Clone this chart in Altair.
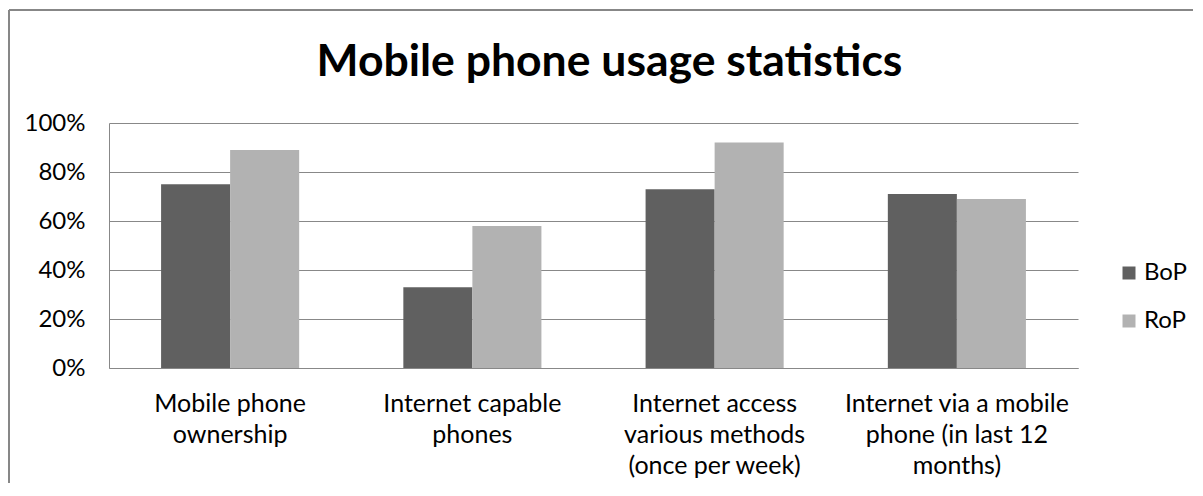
import altair as alt
import pandas as pd

categories = [
    "Mobile phone\nownership",
    "Internet capable\nphones",
    "Internet access\nvarious methods\n(once per week)",
    "Internet via a mobile\nphone (in last 12\nmonths)",
]
series = ["BoP", "RoP"]
bop_values = [0.75, 0.33, 0.73, 0.71]
rop_values = [0.89, 0.58, 0.92, 0.69]
y_ticks = [0, 0.2, 0.4, 0.6, 0.8, 1.0]
colors = ["#606060", "#b2b2b2"]
title_text = "Mobile phone usage statistics"

rows = []
for c, b, r in zip(categories, bop_values, rop_values):
    rows.append({"category": c, "series": "BoP", "value": b})
    rows.append({"category": c, "series": "RoP", "value": r})
df = pd.DataFrame(rows)

FONT = "Lato"
GRID = "#888888"

bars = alt.Chart(df).mark_bar().encode(
    x=alt.X(
        "category:N",
        sort=categories,
        title=None,
        scale=alt.Scale(paddingInner=0.43, paddingOuter=0.215),
        axis=alt.Axis(
            labelExpr="split(datum.label, '\\n')",
            labelAngle=0,
            labelFont=FONT,
            labelFontSize=25,
            labelColor="#000000",
            labelLineHeight=31,
            labelBaseline="top",
            labelPadding=23,
            labelLimit=0,
            ticks=False,
            domain=True,
            domainColor=GRID,
            domainWidth=1,
            grid=False,
        ),
    ),
    xOffset=alt.XOffset("series:N", sort=series,
                        scale=alt.Scale(paddingInner=0, paddingOuter=0)),
    y=alt.Y(
        "value:Q",
        title=None,
        scale=alt.Scale(domain=[0, 1]),
        axis=alt.Axis(
            format=".0%",
            values=y_ticks,
            labelFont=FONT,
            labelFontSize=24,
            labelColor="#000000",
            labelPadding=24,
            ticks=False,
            domain=True,
            domainColor=GRID,
            grid=True,
            gridColor=GRID,
            gridWidth=1,
        ),
    ),
    color=alt.Color(
        "series:N",
        scale=alt.Scale(domain=series, range=colors),
        legend=alt.Legend(
            title=None,
            orient="none",
            legendX=1008,
            legendY=138,
            symbolType="square",
            symbolSize=169,
            symbolStrokeWidth=0,
            labelFont=FONT,
            labelFontSize=24,
            labelColor="#000000",
            labelOffset=3,
            rowPadding=24,
        ),
    ),
)

one = alt.Data(values=[{"k": 1}])

left_border = alt.Chart(one).mark_rule(color="#878787", strokeWidth=2).encode(
    x=alt.value(-100), y=alt.value(-113), y2=alt.value(360)
)
top_border = alt.Chart(one).mark_rule(color="#878787", strokeWidth=2).encode(
    y=alt.value(-113), x=alt.value(-100), x2=alt.value(1084)
)
title = alt.Chart(one).mark_text(
    text=title_text, font=FONT, fontSize=44.5, fontWeight="bold",
    align="center", baseline="alphabetic", color="#000000"
).encode(x=alt.value(500.5), y=alt.value(-47))

chart = alt.layer(bars, left_border, top_border, title).properties(
    width=969,
    height=245,
    padding={"left": 0, "top": 1, "right": 0, "bottom": 0},
).configure(background="white").configure_view(stroke=None)

chart.save("out.html", embed_options={"renderer": "svg", "actions": False})
